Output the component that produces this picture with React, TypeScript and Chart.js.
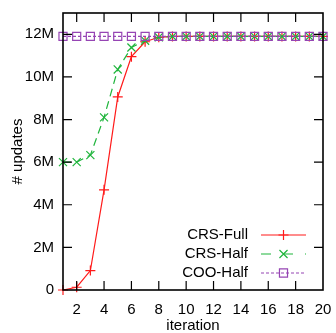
import React, { useEffect, useRef } from "react";
import { Chart, registerables } from "chart.js";

Chart.register(...registerables);

const iterations = [1, 2, 3, 4, 5, 6, 7, 8, 9, 10, 11, 12, 13, 14, 15, 16, 17, 18, 19, 20];
const crsFull = [0, 0.13e6, 0.91e6, 4.7e6, 9.06e6, 10.95e6, 11.65e6, 11.86e6, 11.9e6, 11.9e6, 11.9e6, 11.9e6, 11.9e6, 11.9e6, 11.9e6, 11.9e6, 11.9e6, 11.9e6, 11.9e6, 11.9e6];
const crsHalf = [6.0e6, 6.0e6, 6.33e6, 8.1e6, 10.35e6, 11.38e6, 11.7e6, 11.86e6, 11.9e6, 11.9e6, 11.9e6, 11.9e6, 11.9e6, 11.9e6, 11.9e6, 11.9e6, 11.9e6, 11.9e6, 11.9e6, 11.9e6];
const cooHalf = [11.9e6, 11.9e6, 11.9e6, 11.9e6, 11.9e6, 11.9e6, 11.9e6, 11.9e6, 11.9e6, 11.9e6, 11.9e6, 11.9e6, 11.9e6, 11.9e6, 11.9e6, 11.9e6, 11.9e6, 11.9e6, 11.9e6, 11.9e6];
const seriesNames = ["CRS-Full", "CRS-Half", "COO-Half"];
const xTicks = [2, 4, 6, 8, 10, 12, 14, 16, 18, 20];
const yTicks = [0, 2e6, 4e6, 6e6, 8e6, 10e6, 12e6];

const FONT = "'Liberation Sans', Arial, sans-serif";
const RED = "#ff1a1a";
const GREEN = "#1fb53c";
const PURPLE = "#9645b4";

function drawMarker(ctx: CanvasRenderingContext2D, style: string, x: number, y: number, r: number) {
  ctx.beginPath();
  if (style === "cross") {
    ctx.moveTo(x - r, y);
    ctx.lineTo(x + r, y);
    ctx.moveTo(x, y - r);
    ctx.lineTo(x, y + r);
  } else if (style === "crossRot") {
    const d = r * Math.SQRT1_2;
    ctx.moveTo(x - d, y - d);
    ctx.lineTo(x + d, y + d);
    ctx.moveTo(x + d, y - d);
    ctx.lineTo(x - d, y + d);
  } else {
    const s = r * Math.SQRT1_2;
    ctx.rect(x - s, y - s, 2 * s, 2 * s);
  }
  ctx.stroke();
}

const framePlugin = {
  id: "frameTicks",
  afterDatasetsDraw(chart: any) {
    const ctx = chart.ctx as CanvasRenderingContext2D;
    const { left, right, top, bottom } = chart.chartArea;
    const xs = chart.scales.x;
    const ys = chart.scales.y;
    ctx.save();
    ctx.strokeStyle = "#000";
    ctx.lineWidth = 1.2;
    const tl = 9;
    ctx.beginPath();
    xTicks.forEach((v) => {
      const px = xs.getPixelForValue(v);
      if (px > left + 1 && px < right - 1) {
        ctx.moveTo(px, bottom);
        ctx.lineTo(px, bottom - tl);
        ctx.moveTo(px, top);
        ctx.lineTo(px, top + tl);
      }
    });
    yTicks.forEach((v) => {
      const py = ys.getPixelForValue(v);
      if (py > top + 1 && py < bottom - 1) {
        ctx.moveTo(left, py);
        ctx.lineTo(left + tl, py);
        ctx.moveTo(right, py);
        ctx.lineTo(right - tl, py);
      }
    });
    ctx.stroke();
    ctx.lineWidth = 1.6;
    ctx.strokeRect(left, top, right - left, bottom - top);

    // legend
    const styles = [
      { color: RED, dash: [] as number[], marker: "cross", r: 5 },
      { color: GREEN, dash: [10, 12], marker: "crossRot", r: 5.7 },
      { color: PURPLE, dash: [3, 2], marker: "rect", r: 5.7 },
    ];
    const textRight = 248;
    const lineX0 = 261;
    const lineX1 = 306;
    const rowsY = [235, 254, 273];
    ctx.font = "15px " + FONT;
    ctx.textAlign = "right";
    ctx.textBaseline = "middle";
    seriesNames.forEach((name, i) => {
      const y = rowsY[i];
      ctx.fillStyle = "#000";
      ctx.fillText(name, textRight, y);
      const st = styles[i];
      ctx.strokeStyle = st.color;
      ctx.lineWidth = 1.2;
      ctx.setLineDash(st.dash);
      ctx.beginPath();
      ctx.moveTo(lineX0, y);
      ctx.lineTo(lineX1, y);
      ctx.stroke();
      ctx.setLineDash([]);
      drawMarker(ctx, st.marker, (lineX0 + lineX1) / 2, y, st.r);
    });
    ctx.restore();
  },
};

export default function App() {
  const ref = useRef<HTMLCanvasElement>(null);
  useEffect(() => {
    if (!ref.current) return;
    const mk = (arr: number[]) => iterations.map((x, i) => ({ x, y: arr[i] }));
    const chart = new Chart(ref.current, {
      type: "line",
      data: {
        datasets: [
          {
            label: seriesNames[0],
            data: mk(crsFull),
            borderColor: RED,
            borderWidth: 1.2,
            pointStyle: "cross",
            pointRadius: 5,
            pointBorderColor: RED,
            pointBorderWidth: 1.2,
            pointBackgroundColor: "transparent",
            tension: 0,
            clip: false,
            order: 3,
          },
          {
            label: seriesNames[1],
            data: mk(crsHalf),
            borderColor: GREEN,
            borderWidth: 1.2,
            borderDash: [8, 5],
            pointStyle: "crossRot",
            pointRadius: 5.7,
            pointBorderColor: GREEN,
            pointBorderWidth: 1.2,
            pointBackgroundColor: "transparent",
            tension: 0,
            clip: false,
            order: 2,
          },
          {
            label: seriesNames[2],
            data: mk(cooHalf),
            borderColor: PURPLE,
            borderWidth: 1.2,
            borderDash: [3, 2],
            pointStyle: "rect",
            pointRadius: 5.7,
            pointBorderColor: PURPLE,
            pointBorderWidth: 1.2,
            pointBackgroundColor: "transparent",
            tension: 0,
            clip: false,
            order: 1,
          },
        ] as any,
      },
      options: {
        responsive: false,
        animation: false,
        events: [],
        layout: { padding: { left: 0, top: 13, right: 13, bottom: 0 } },
        plugins: { legend: { display: false }, tooltip: { enabled: false } },
        scales: {
          x: {
            type: "linear",
            min: 1,
            max: 20,
            afterBuildTicks: (s: any) => {
              s.ticks = xTicks.map((v) => ({ value: v }));
            },
            afterFit: (s: any) => {
              s.height = 43;
              s.paddingLeft = 0;
              s.paddingRight = 0;
            },
            grid: { display: false, drawTicks: false },
            border: { display: false },
            ticks: {
              color: "#000",
              font: { family: FONT, size: 15 },
              padding: 11,
              maxRotation: 0,
              autoSkip: false,
            },
            title: {
              display: true,
              text: "iteration",
              color: "#000",
              font: { family: FONT, size: 15, lineHeight: 1 },
              padding: { top: 0, bottom: 0 },
            },
          },
          y: {
            type: "linear",
            min: 0,
            max: 13e6,
            afterBuildTicks: (s: any) => {
              s.ticks = yTicks.map((v) => ({ value: v }));
            },
            afterFit: (s: any) => {
              s.width = 63;
              s.paddingTop = 0;
              s.paddingBottom = 0;
            },
            grid: { display: false, drawTicks: false },
            border: { display: false },
            ticks: {
              color: "#000",
              font: { family: FONT, size: 15 },
              padding: 9,
              autoSkip: false,
              callback: (v: any) => (v === 0 ? "0" : v / 1e6 + "M"),
            },
            title: {
              display: true,
              text: "# updates",
              color: "#000",
              font: { family: FONT, size: 15, lineHeight: 1 },
              padding: { top: 10, bottom: 0 },
            },
          },
        },
      },
      plugins: [framePlugin],
    });
    return () => chart.destroy();
  }, []);
  return (
    <div style={{ position: "fixed", left: 0, top: 0, width: 336, height: 333, background: "#fff" }}>
      <canvas ref={ref} width={336} height={333} style={{ display: "block" }} />
    </div>
  );
}
